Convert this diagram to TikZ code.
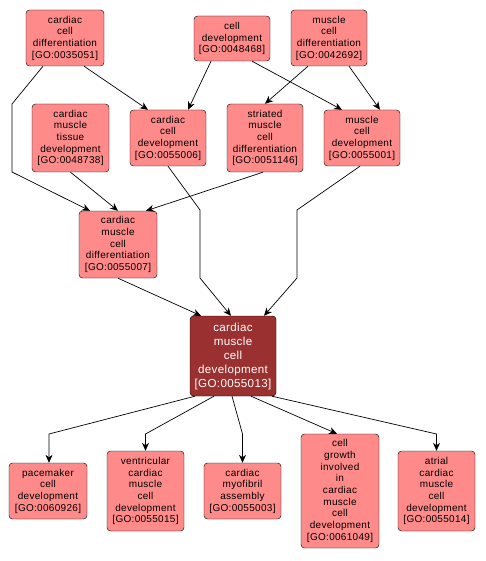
\documentclass[tikz,border=0pt]{standalone}
\usepackage{fontspec}
\newfontfamily\gofont[LetterSpace=3]{Liberation Sans}
\usetikzlibrary{positioning,arrows.meta,calc}
\definecolor{termfill}{RGB}{255,138,138}
\definecolor{keyfill}{RGB}{155,48,48}

\begin{document}
\begin{tikzpicture}[x=1pt, y=-1pt,
    term/.style={draw, fill=termfill, rounded corners=3.5pt, align=center,
                 inner sep=1pt, font=\gofont\fontsize{10}{11.7}\selectfont,
                 minimum width=77pt},
    key/.style={term, fill=keyfill, text=white,
                font=\gofont\fontsize{11.6}{14}\selectfont},
    isa/.style={-{Stealth[length=8pt, width=7pt, inset=2.5pt]}, line width=0.7pt},
  ]
  \useasboundingbox (0,0) rectangle (486,561);

  % top row
  \node[term, minimum width=78pt, minimum height=56pt] (ccdiff) at (65,38)
    {cardiac\\cell\\differentiation\\{[GO:0035051]}};
  \node[term, minimum width=76pt, minimum height=45pt] (celldev) at (232,38.5)
    {cell\\development\\{[GO:0048468]}};
  \node[term, minimum width=76pt, minimum height=56pt] (mcdiff) at (329,38)
    {muscle\\cell\\differentiation\\{[GO:0042692]}};

  % second row
  \node[term, minimum height=68pt] (cmtdev) at (70.5,138)
    {cardiac\\muscle\\tissue\\development\\{[GO:0048738]}};
  \node[term, minimum width=76pt, minimum height=56pt] (ccdev) at (168,138)
    {cardiac\\cell\\development\\{[GO:0055006]}};
  \node[term, minimum width=76pt, minimum height=68pt] (smcdiff) at (265,138)
    {striated\\muscle\\cell\\differentiation\\{[GO:0051146]}};
  \node[term, minimum width=76pt, minimum height=56pt] (mcdev) at (362,138)
    {muscle\\cell\\development\\{[GO:0055001]}};

  \node[term, minimum width=78pt, minimum height=67pt] (cmcdiff) at (118,244.5)
    {cardiac\\muscle\\cell\\differentiation\\{[GO:0055007]}};

  % the term itself
  \node[key, minimum width=86pt, minimum height=80pt] (cmcdev) at (233,356)
    {cardiac\\muscle\\cell\\development\\{[GO:0055013]}};

  % children
  \node[term, minimum width=78pt, minimum height=56pt] (pmdev) at (48,491)
    {pacemaker\\cell\\development\\{[GO:0060926]}};
  \node[term, minimum height=80pt] (vcmcdev) at (145.5,491)
    {ventricular\\cardiac\\muscle\\cell\\development\\{[GO:0055015]}};
  \node[term, minimum height=56pt] (myofib) at (242.5,491)
    {cardiac\\myofibril\\assembly\\{[GO:0055003]}};
  \node[term, minimum width=78pt, minimum height=114pt] (cgrowth) at (340,491)
    {cell\\growth\\involved\\in\\cardiac\\muscle\\cell\\development\\{[GO:0061049]}};
  \node[term, minimum height=80pt] (acmcdev) at (436.5,491)
    {atrial\\cardiac\\muscle\\cell\\development\\{[GO:0055014]}};

  % is_a edges, parents
  \draw[isa] ($(ccdiff.south)+(19,0)$) -- ($(ccdev.north)+(-20,0)$);
  \draw[isa] ($(ccdiff.south)+(-22,0)$) -- (12,104) -- (12,172)
    -- ($(cmcdiff.north)+(-28,0)$);
  \draw[isa] ($(celldev.south)+(-21,0)$) -- ($(ccdev.north)+(20,0)$);
  \draw[isa] ($(celldev.south)+(20,0)$) -- ($(mcdev.north)+(-20,0)$);
  \draw[isa] ($(mcdiff.south)+(-21,0)$) -- (smcdiff.north);
  \draw[isa] ($(mcdiff.south)+(20,0)$) -- ($(mcdev.north)+(18,0)$);
  \draw[isa] (cmtdev.south) -- (cmcdiff.north);
  \draw[isa] ($(smcdiff.south)+(-2,0)$) -- ($(cmcdiff.north)+(28,0)$);
  \draw[isa] (cmcdiff.south) -- ($(cmcdev.north)+(-32,0)$);
  \draw[isa] (ccdev.south) -- (200,210) -- (200,278) -- ($(cmcdev.north)+(-2,0)$);
  \draw[isa] ($(mcdev.south)+(-2,0)$) -- (297,210) -- (297,278)
    -- ($(cmcdev.north)+(31,0)$);

  % is_a edges, children
  \draw[isa] ($(cmcdev.south)+(-38,0)$) -- (49,434) -- ($(pmdev.north)+(1,0)$);
  \draw[isa] ($(cmcdev.south)+(-19,0)$) -- (145.5,434) -- (vcmcdev.north);
  \draw[isa] ($(cmcdev.south)+(-1,0)$) -- (242.5,434) -- (myofib.north);
  \draw[isa] ($(cmcdev.south)+(18,0)$) -- ($(cgrowth.north)+(-3,0)$);
  \draw[isa] ($(cmcdev.south)+(39,0)$) -- (436.5,434) -- (acmcdev.north);
\end{tikzpicture}
\end{document}
